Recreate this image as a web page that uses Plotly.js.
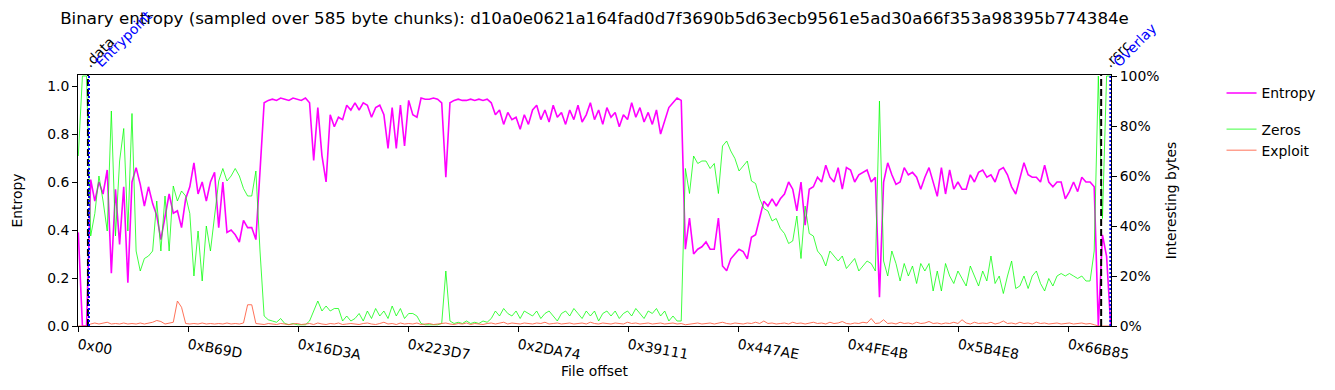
<!DOCTYPE html>
<html>
<head>
<meta charset="utf-8">
<script src="https://cdn.plot.ly/plotly-3.0.1.min.js"></script>
<style>body{margin:0;background:#fff}</style>
</head>
<body>
<div id="chart" style="width:1335px;height:390px"></div>
<script>
// Sampling: 585-byte chunks, one value kept every 3 chunks
const CHUNK = 585;
const STRIDE = 3;

const entropy = [
  0.39,0,0,0.61,0.52,0.6,0.55,0.65,0.22,0.57,
  0.34,0.58,0.18,0.6,0.66,0.59,0.5,0.58,0.51,0.46,
  0.36,0.46,0.55,0.47,0.48,0.41,0.53,0.58,0.68,0.55,
  0.6,0.52,0.6,0.64,0.41,0.6,0.39,0.4,0.38,0.35,
  0.44,0.41,0.41,0.36,0.66,0.93,0.94,0.945,0.94,0.95,
  0.945,0.94,0.95,0.945,0.94,0.95,0.93,0.69,0.91,0.71,
  0.6,0.88,0.83,0.87,0.86,0.92,0.9,0.93,0.9,0.93,
  0.92,0.87,0.91,0.92,0.88,0.74,0.91,0.74,0.92,0.75,
  0.94,0.88,0.87,0.95,0.945,0.945,0.95,0.945,0.93,0.62,
  0.93,0.94,0.945,0.94,0.94,0.945,0.94,0.945,0.94,0.945,
  0.93,0.88,0.9,0.84,0.89,0.86,0.87,0.82,0.88,0.84,
  0.9,0.92,0.86,0.9,0.85,0.92,0.87,0.89,0.84,0.9,
  0.86,0.92,0.85,0.88,0.93,0.86,0.9,0.84,0.91,0.87,
  0.89,0.83,0.88,0.86,0.93,0.87,0.91,0.85,0.89,0.84,
  0.9,0.8,0.86,0.91,0.93,0.95,0.94,0.32,0.45,0.3,
  0.32,0.33,0.35,0.32,0.32,0.45,0.25,0.23,0.28,0.3,
  0.32,0.31,0.28,0.37,0.38,0.45,0.52,0.5,0.53,0.5,
  0.53,0.55,0.6,0.57,0.48,0.6,0.42,0.57,0.58,0.62,
  0.6,0.67,0.62,0.6,0.66,0.57,0.66,0.65,0.6,0.63,
  0.64,0.65,0.6,0.62,0.12,0.6,0.68,0.63,0.59,0.6,
  0.66,0.63,0.64,0.62,0.57,0.62,0.66,0.6,0.54,0.66,
  0.55,0.65,0.57,0.6,0.57,0.57,0.63,0.6,0.64,0.65,
  0.62,0.63,0.6,0.65,0.66,0.63,0.58,0.55,0.62,0.68,
  0.63,0.62,0.62,0.6,0.67,0.6,0.58,0.6,0.6,0.53,
  0.56,0.6,0.56,0.62,0.6,0.6,0.58,0,0.38,0.29,
  0
];

const zeros = [
  0.68,1,1,0.36,0.45,0.6,0.5,0.38,0.86,0.36,
  0.66,0.79,0.38,0.85,0.3,0.22,0.27,0.28,0.3,0.5,
  0.3,0.52,0.3,0.56,0.5,0.54,0.52,0.45,0.2,0.38,
  0.18,0.4,0.3,0.45,0.58,0.63,0.58,0.6,0.63,0.6,
  0.55,0.52,0.52,0.62,0.3,0.04,0.025,0.02,0.015,0.03,
  0.01,0.005,0.01,0.005,0.005,0.005,0.02,0.06,0.1,0.06,
  0.08,0.06,0.07,0.07,0.02,0.04,0.02,0.03,0.05,0.02,
  0.06,0.03,0.07,0.04,0.06,0.03,0.08,0.04,0.07,0.03,
  0.05,0.05,0.04,0.01,0.005,0.005,0.005,0.005,0.01,0.22,
  0.02,0.01,0.015,0.01,0.02,0.01,0.015,0.01,0.02,0.015,
  0.03,0.06,0.04,0.07,0.05,0.04,0.06,0.03,0.06,0.05,
  0.04,0.06,0.03,0.05,0.06,0.04,0.02,0.05,0.06,0.04,
  0.07,0.05,0.03,0.06,0.04,0.06,0.02,0.05,0.06,0.04,
  0.06,0.03,0.05,0.06,0.04,0.07,0.05,0.03,0.06,0.05,
  0.07,0.04,0.06,0.02,0.04,0.02,0.02,0.63,0.53,0.68,
  0.65,0.66,0.66,0.63,0.65,0.53,0.72,0.74,0.7,0.67,
  0.62,0.64,0.66,0.58,0.57,0.51,0.47,0.46,0.42,0.43,
  0.39,0.37,0.33,0.34,0.44,0.27,0.48,0.37,0.36,0.3,
  0.28,0.24,0.3,0.28,0.26,0.28,0.23,0.25,0.27,0.22,
  0.24,0.26,0.25,0.22,0.9,0.26,0.2,0.3,0.25,0.18,
  0.25,0.2,0.24,0.17,0.25,0.22,0.25,0.14,0.22,0.14,
  0.25,0.2,0.17,0.22,0.19,0.16,0.24,0.2,0.16,0.22,
  0.18,0.28,0.17,0.2,0.13,0.2,0.26,0.15,0.16,0.2,
  0.15,0.2,0.22,0.17,0.14,0.19,0.16,0.2,0.21,0.2,
  0.21,0.2,0.19,0.2,0.18,0.18,0.3,1,0.43,1,
  1
];

const exploit = [
  0,0,0,0.008,0.012,0.008,0.01,0.015,0.008,0.01,
  0.008,0.012,0.008,0.01,0.008,0.012,0.008,0.01,0.015,0.022,
  0.018,0.008,0.01,0.015,0.1,0.075,0.01,0.008,0.01,0.008,
  0.012,0.008,0.01,0.008,0.01,0.008,0.012,0.008,0.01,0.008,
  0.012,0.085,0.085,0.01,0.008,0.006,0.01,0.008,0.006,0.01,
  0.008,0.006,0.008,0.01,0.006,0.008,0.01,0.006,0.012,0.008,
  0.006,0.01,0.008,0.012,0.006,0.008,0.01,0.008,0.006,0.01,
  0.012,0.008,0.006,0.01,0.015,0.008,0.01,0.006,0.012,0.008,
  0.01,0.008,0.012,0.006,0.008,0.01,0.006,0.008,0.01,0.012,
  0.008,0.006,0.01,0.008,0.012,0.006,0.01,0.008,0.006,0.01,
  0.012,0.008,0.01,0.015,0.008,0.012,0.01,0.008,0.012,0.01,
  0.008,0.012,0.01,0.015,0.008,0.01,0.012,0.008,0.01,0.012,
  0.008,0.01,0.012,0.008,0.015,0.01,0.008,0.012,0.01,0.008,
  0.012,0.01,0.008,0.015,0.01,0.012,0.008,0.01,0.012,0.008,
  0.01,0.012,0.008,0.01,0.012,0.008,0.01,0.005,0.008,0.01,
  0.012,0.008,0.01,0.012,0.008,0.01,0.015,0.01,0.008,0.012,
  0.01,0.008,0.012,0.01,0.015,0.01,0.02,0.01,0.012,0.008,
  0.01,0.012,0.008,0.015,0.01,0.012,0.008,0.01,0.015,0.01,
  0.012,0.008,0.015,0.01,0.012,0.018,0.01,0.008,0.012,0.01,
  0.015,0.012,0.03,0.01,0.012,0.025,0.01,0.012,0.008,0.015,
  0.01,0.012,0.008,0.015,0.01,0.012,0.018,0.01,0.012,0.008,
  0.012,0.01,0.015,0.01,0.025,0.012,0.008,0.015,0.01,0.012,
  0.01,0.015,0.008,0.012,0.02,0.01,0.012,0.008,0.015,0.01,
  0.012,0.008,0.015,0.01,0.012,0.008,0.01,0.012,0.008,0.01,
  0.012,0.008,0.01,0.012,0.008,0.01,0.005,0,0,0,
  0
];

const tickOffsets = [0, 46749, 93498, 140247, 186996, 233745, 280494, 327243, 373992, 420741];
const tickLabels = ['0x00','0xB69D','0x16D3A','0x223D7','0x2DA74','0x39111','0x447AE','0x4FE4B','0x5B4E8','0x66B85'];

const sectionNames = ['.data', '.rsrc'];
const sectionOffsets = [4096, 434688];
const markerNames = ['Entrypoint', 'Overlay'];
const markerOffsets = [4544, 438600];

const offsets = entropy.map((_, i) => i * CHUNK * STRIDE);

const FONT = 'DejaVu Sans, Liberation Sans, sans-serif';
const FS = 13.9;

const traces = [
  {x: offsets, y: entropy, name: 'Entropy', type: 'scatter', mode: 'lines',
   line: {color: '#ff00ff', width: 1.6}, legendgroup: 'a', yaxis: 'y', hoverinfo: 'skip'},
  {x: offsets, y: zeros, name: 'Zeros', type: 'scatter', mode: 'lines',
   line: {color: 'rgba(0,255,0,0.75)', width: 1}, legendgroup: 'b', yaxis: 'y2', hoverinfo: 'skip'},
  {x: offsets, y: exploit, name: 'Exploit', type: 'scatter', mode: 'lines',
   line: {color: 'rgba(255,99,71,0.9)', width: 1}, legendgroup: 'b', yaxis: 'y2', hoverinfo: 'skip'}
];

const sectionShift = [-10, -3];
const markerShift = [0, -3];
const shapes = [];
const annotations = [];
sectionOffsets.forEach((off, k) => {
  shapes.push({type: 'line', xref: 'x', yref: 'paper', x0: off, x1: off, y0: 0, y1: 1,
    line: {color: 'black', width: 2, dash: '7px,3px'}});
  annotations.push({x: off, y: 1, xref: 'x', yref: 'paper', text: sectionNames[k], showarrow: false,
    textangle: -45, xanchor: 'left', yanchor: 'bottom', xshift: sectionShift[k], yshift: 2,
    font: {family: FONT, size: FS, color: 'black'}});
});
markerOffsets.forEach((off, k) => {
  shapes.push({type: 'line', xref: 'x', yref: 'paper', x0: off, x1: off, y0: 0, y1: 1,
    line: {color: 'blue', width: 2, dash: '2px,2px'}});
  annotations.push({x: off, y: 1, xref: 'x', yref: 'paper', text: markerNames[k], showarrow: false,
    textangle: -45, xanchor: 'left', yanchor: 'bottom', xshift: markerShift[k], yshift: 2,
    font: {family: FONT, size: FS, color: 'blue'}});
});

const layout = {
  width: 1335, height: 390,
  margin: {l: 78, r: 224, t: 75, b: 64},
  paper_bgcolor: 'white', plot_bgcolor: 'white',
  font: {family: FONT, size: FS, color: 'black'},
  showlegend: true,
  title: {text: 'Binary entropy (sampled over 585 byte chunks): d10a0e0621a164fad0d7f3690b5d63ecb9561e5ad30a66f353a98395b774384e',
          font: {family: FONT, size: 16.67, color: 'black'},
          x: 0.5, xref: 'paper', xanchor: 'center', y: 1 - 18/390, yref: 'container', yanchor: 'middle'},
  xaxis: {range: [-128, 438870], showgrid: false, zeroline: false, showline: true, mirror: true,
          linecolor: 'black', linewidth: 1, ticks: 'outside', ticklen: 5, tickwidth: 1, tickcolor: 'black',
          tickvals: tickOffsets, ticktext: tickLabels, tickangle: 10,
          tickfont: {family: FONT, size: FS},
          title: {text: 'File offset', font: {family: FONT, size: FS}, standoff: 4}},
  yaxis: {range: [0, 251/240], showgrid: false, zeroline: false, showline: true,
          linecolor: 'black', linewidth: 1, ticks: 'outside', ticklen: 5, tickwidth: 1, tickcolor: 'black',
          tickvals: [0, 0.2, 0.4, 0.6, 0.8, 1.0], tickformat: '.1f',
          tickfont: {family: FONT, size: FS},
          title: {text: 'Entropy', font: {family: FONT, size: FS}, standoff: 21}},
  yaxis2: {range: [0, 251/250], overlaying: 'y', side: 'right', showgrid: false, zeroline: false,
          showline: true, linecolor: 'black', linewidth: 1, ticks: 'outside', ticklen: 5, tickwidth: 1,
          tickcolor: 'black', tickvals: [0, 0.2, 0.4, 0.6, 0.8, 1.0], tickformat: '.0%',
          tickfont: {family: FONT, size: FS},
          title: {text: 'Interesting bytes', font: {family: FONT, size: FS}, standoff: 7}},
  legend: {x: 1.107, xanchor: 'left', y: 0.99, yanchor: 'top', tracegroupgap: 15,
           traceorder: 'grouped', bgcolor: 'rgba(0,0,0,0)', font: {family: FONT, size: FS}},
  shapes: shapes,
  annotations: annotations
};

Plotly.newPlot('chart', traces, layout, {displayModeBar: false, staticPlot: true});
</script>
</body>
</html>
